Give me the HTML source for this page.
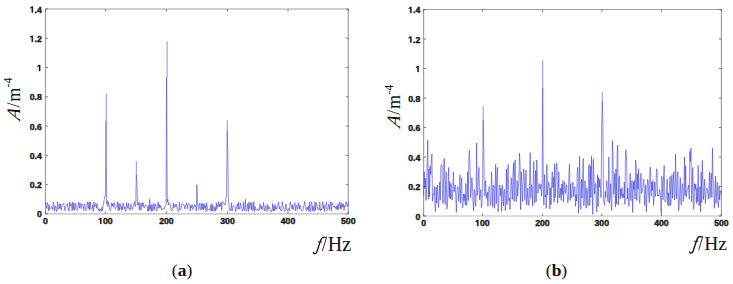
<!DOCTYPE html>
<html><head><meta charset="utf-8"><style>
html,body{margin:0;padding:0;background:#fff;width:733px;height:284px;overflow:hidden}
svg{display:block}
.tk{font-family:"Liberation Sans",sans-serif;font-weight:bold;font-size:8.7px;fill:#111;stroke:#111;stroke-width:0.35px;text-rendering:geometricPrecision}
.tk1{fill:#111;stroke:#111;stroke-width:0.35px}
.lab{font-family:"Liberation Serif",serif;font-size:18px;fill:#111}
.cap{font-family:"Liberation Serif",serif;font-size:17.5px;fill:#111}
</style></head><body>
<svg width="733" height="284" viewBox="0 0 733 284">
<rect width="733" height="284" fill="#fff"/>
<path d="M45.5,213.9 V9.0 H348.3 V213.9" fill="none" stroke="#a0a0a0" stroke-width="1.2"/>
<line x1="44.9" y1="213.9" x2="348.90000000000003" y2="213.9" stroke="#bcbcbc" stroke-width="1.2"/>
<line x1="45.50" y1="213.9" x2="45.50" y2="211.4" stroke="#606060" stroke-width="0.8"/>
<line x1="45.50" y1="9.0" x2="45.50" y2="11.5" stroke="#606060" stroke-width="0.8"/>
<text class="tk" x="43.08" y="223.90">0</text>
<line x1="105.40" y1="213.9" x2="105.40" y2="211.4" stroke="#606060" stroke-width="0.8"/>
<line x1="105.40" y1="9.0" x2="105.40" y2="11.5" stroke="#606060" stroke-width="0.8"/>
<path class="tk1" d="M100.17,223.90 L100.17,218.93 L98.74,219.83 L98.74,218.89 L100.24,217.91 L101.37,217.91 L101.37,223.90Z"/><text class="tk" x="102.98" y="223.90">00</text>
<line x1="166.40" y1="213.9" x2="166.40" y2="211.4" stroke="#606060" stroke-width="0.8"/>
<line x1="166.40" y1="9.0" x2="166.40" y2="11.5" stroke="#606060" stroke-width="0.8"/>
<text class="tk" x="159.14" y="223.90">200</text>
<line x1="227.50" y1="213.9" x2="227.50" y2="211.4" stroke="#606060" stroke-width="0.8"/>
<line x1="227.50" y1="9.0" x2="227.50" y2="11.5" stroke="#606060" stroke-width="0.8"/>
<text class="tk" x="220.24" y="223.90">300</text>
<line x1="288.00" y1="213.9" x2="288.00" y2="211.4" stroke="#606060" stroke-width="0.8"/>
<line x1="288.00" y1="9.0" x2="288.00" y2="11.5" stroke="#606060" stroke-width="0.8"/>
<text class="tk" x="280.74" y="223.90">400</text>
<line x1="348.30" y1="213.9" x2="348.30" y2="211.4" stroke="#606060" stroke-width="0.8"/>
<line x1="348.30" y1="9.0" x2="348.30" y2="11.5" stroke="#606060" stroke-width="0.8"/>
<text class="tk" x="341.04" y="223.90">500</text>
<line x1="45.5" y1="213.90" x2="48.0" y2="213.90" stroke="#606060" stroke-width="0.8"/>
<line x1="348.3" y1="213.90" x2="345.8" y2="213.90" stroke="#606060" stroke-width="0.8"/>
<text class="tk" x="36.96" y="217.40">0</text>
<line x1="45.5" y1="184.63" x2="48.0" y2="184.63" stroke="#606060" stroke-width="0.8"/>
<line x1="348.3" y1="184.63" x2="345.8" y2="184.63" stroke="#606060" stroke-width="0.8"/>
<text class="tk" x="29.71" y="188.13">0.2</text>
<line x1="45.5" y1="155.36" x2="48.0" y2="155.36" stroke="#606060" stroke-width="0.8"/>
<line x1="348.3" y1="155.36" x2="345.8" y2="155.36" stroke="#606060" stroke-width="0.8"/>
<text class="tk" x="29.71" y="158.86">0.4</text>
<line x1="45.5" y1="126.09" x2="48.0" y2="126.09" stroke="#606060" stroke-width="0.8"/>
<line x1="348.3" y1="126.09" x2="345.8" y2="126.09" stroke="#606060" stroke-width="0.8"/>
<text class="tk" x="29.71" y="129.59">0.6</text>
<line x1="45.5" y1="96.81" x2="48.0" y2="96.81" stroke="#606060" stroke-width="0.8"/>
<line x1="348.3" y1="96.81" x2="345.8" y2="96.81" stroke="#606060" stroke-width="0.8"/>
<text class="tk" x="29.71" y="100.31">0.8</text>
<line x1="45.5" y1="67.54" x2="48.0" y2="67.54" stroke="#606060" stroke-width="0.8"/>
<line x1="348.3" y1="67.54" x2="345.8" y2="67.54" stroke="#606060" stroke-width="0.8"/>
<path class="tk1" d="M38.99,71.04 L38.99,66.07 L37.56,66.97 L37.56,66.03 L39.06,65.06 L40.19,65.06 L40.19,71.04Z"/>
<line x1="45.5" y1="38.27" x2="48.0" y2="38.27" stroke="#606060" stroke-width="0.8"/>
<line x1="348.3" y1="38.27" x2="345.8" y2="38.27" stroke="#606060" stroke-width="0.8"/>
<path class="tk1" d="M31.74,41.77 L31.74,36.80 L30.30,37.70 L30.30,36.76 L31.80,35.79 L32.93,35.79 L32.93,41.77Z"/><text class="tk" x="34.54" y="41.77">.2</text>
<line x1="45.5" y1="9.00" x2="48.0" y2="9.00" stroke="#606060" stroke-width="0.8"/>
<line x1="348.3" y1="9.00" x2="345.8" y2="9.00" stroke="#606060" stroke-width="0.8"/>
<path class="tk1" d="M31.74,12.50 L31.74,7.53 L30.30,8.43 L30.30,7.49 L31.80,6.51 L32.93,6.51 L32.93,12.50Z"/><text class="tk" x="34.54" y="12.50">.4</text>
<path d="M423.6,216.0 V9.5 H721.4 V216.0" fill="none" stroke="#a0a0a0" stroke-width="1.2"/>
<line x1="423.0" y1="216.0" x2="722.0" y2="216.0" stroke="#bcbcbc" stroke-width="1.2"/>
<line x1="423.60" y1="216.0" x2="423.60" y2="213.5" stroke="#606060" stroke-width="0.8"/>
<line x1="423.60" y1="9.5" x2="423.60" y2="12.0" stroke="#606060" stroke-width="0.8"/>
<text class="tk" x="421.18" y="226.10">0</text>
<line x1="482.40" y1="216.0" x2="482.40" y2="213.5" stroke="#606060" stroke-width="0.8"/>
<line x1="482.40" y1="9.5" x2="482.40" y2="12.0" stroke="#606060" stroke-width="0.8"/>
<path class="tk1" d="M477.17,226.10 L477.17,221.13 L475.74,222.03 L475.74,221.09 L477.24,220.11 L478.37,220.11 L478.37,226.10Z"/><text class="tk" x="479.98" y="226.10">00</text>
<line x1="542.40" y1="216.0" x2="542.40" y2="213.5" stroke="#606060" stroke-width="0.8"/>
<line x1="542.40" y1="9.5" x2="542.40" y2="12.0" stroke="#606060" stroke-width="0.8"/>
<text class="tk" x="535.14" y="226.10">200</text>
<line x1="601.80" y1="216.0" x2="601.80" y2="213.5" stroke="#606060" stroke-width="0.8"/>
<line x1="601.80" y1="9.5" x2="601.80" y2="12.0" stroke="#606060" stroke-width="0.8"/>
<text class="tk" x="594.54" y="226.10">300</text>
<line x1="661.40" y1="216.0" x2="661.40" y2="213.5" stroke="#606060" stroke-width="0.8"/>
<line x1="661.40" y1="9.5" x2="661.40" y2="12.0" stroke="#606060" stroke-width="0.8"/>
<text class="tk" x="654.14" y="226.10">400</text>
<line x1="721.40" y1="216.0" x2="721.40" y2="213.5" stroke="#606060" stroke-width="0.8"/>
<line x1="721.40" y1="9.5" x2="721.40" y2="12.0" stroke="#606060" stroke-width="0.8"/>
<text class="tk" x="714.14" y="226.10">500</text>
<line x1="423.6" y1="216.00" x2="426.1" y2="216.00" stroke="#606060" stroke-width="0.8"/>
<line x1="721.4" y1="216.00" x2="718.9" y2="216.00" stroke="#606060" stroke-width="0.8"/>
<text class="tk" x="415.46" y="219.50">0</text>
<line x1="423.6" y1="186.50" x2="426.1" y2="186.50" stroke="#606060" stroke-width="0.8"/>
<line x1="721.4" y1="186.50" x2="718.9" y2="186.50" stroke="#606060" stroke-width="0.8"/>
<text class="tk" x="408.21" y="190.00">0.2</text>
<line x1="423.6" y1="157.00" x2="426.1" y2="157.00" stroke="#606060" stroke-width="0.8"/>
<line x1="721.4" y1="157.00" x2="718.9" y2="157.00" stroke="#606060" stroke-width="0.8"/>
<text class="tk" x="408.21" y="160.50">0.4</text>
<line x1="423.6" y1="127.50" x2="426.1" y2="127.50" stroke="#606060" stroke-width="0.8"/>
<line x1="721.4" y1="127.50" x2="718.9" y2="127.50" stroke="#606060" stroke-width="0.8"/>
<text class="tk" x="408.21" y="131.00">0.6</text>
<line x1="423.6" y1="98.00" x2="426.1" y2="98.00" stroke="#606060" stroke-width="0.8"/>
<line x1="721.4" y1="98.00" x2="718.9" y2="98.00" stroke="#606060" stroke-width="0.8"/>
<text class="tk" x="408.21" y="101.50">0.8</text>
<line x1="423.6" y1="68.50" x2="426.1" y2="68.50" stroke="#606060" stroke-width="0.8"/>
<line x1="721.4" y1="68.50" x2="718.9" y2="68.50" stroke="#606060" stroke-width="0.8"/>
<path class="tk1" d="M417.49,72.00 L417.49,67.03 L416.06,67.93 L416.06,66.99 L417.56,66.01 L418.69,66.01 L418.69,72.00Z"/>
<line x1="423.6" y1="39.00" x2="426.1" y2="39.00" stroke="#606060" stroke-width="0.8"/>
<line x1="721.4" y1="39.00" x2="718.9" y2="39.00" stroke="#606060" stroke-width="0.8"/>
<path class="tk1" d="M410.24,42.50 L410.24,37.53 L408.80,38.43 L408.80,37.49 L410.30,36.51 L411.43,36.51 L411.43,42.50Z"/><text class="tk" x="413.04" y="42.50">.2</text>
<line x1="423.6" y1="9.50" x2="426.1" y2="9.50" stroke="#606060" stroke-width="0.8"/>
<line x1="721.4" y1="9.50" x2="718.9" y2="9.50" stroke="#606060" stroke-width="0.8"/>
<path class="tk1" d="M410.24,13.00 L410.24,8.03 L408.80,8.93 L408.80,7.99 L410.30,7.01 L411.43,7.01 L411.43,13.00Z"/><text class="tk" x="413.04" y="13.00">.4</text>
<polyline points="45.50,202.06 46.11,206.00 46.71,208.51 47.32,202.51 47.92,204.57 48.53,210.69 49.13,204.71 49.74,209.68 50.34,208.80 50.95,208.09 51.56,206.38 52.16,207.06 52.77,209.82 53.37,201.94 53.98,204.30 54.58,210.80 55.19,206.19 55.80,206.14 56.40,211.69 57.01,211.14 57.61,202.16 58.22,208.60 58.82,208.99 59.43,204.15 60.03,208.52 60.64,203.81 61.25,210.29 61.85,206.43 62.46,205.09 63.06,203.86 63.67,203.58 64.27,206.43 64.88,210.83 65.48,206.75 66.09,206.06 66.70,205.56 67.30,203.44 67.91,208.61 68.51,208.40 69.12,211.17 69.72,201.88 70.33,206.26 70.94,203.56 71.54,205.11 72.15,210.83 72.75,202.18 73.36,209.70 73.96,202.92 74.57,210.34 75.17,206.59 75.78,203.46 76.39,209.79 76.99,210.45 77.60,209.20 78.20,204.27 78.81,201.99 79.41,208.29 80.02,202.91 80.62,206.51 81.23,208.72 81.84,203.63 82.44,204.31 83.05,205.99 83.65,210.38 84.26,205.29 84.86,203.96 85.47,210.71 86.08,210.08 86.68,209.82 87.29,202.07 87.89,203.91 88.50,208.49 89.10,201.91 89.71,210.13 90.31,201.75 90.92,208.76 91.53,209.08 92.13,208.15 92.74,204.98 93.34,211.52 93.95,201.95 94.55,206.66 95.16,204.51 95.76,203.45 96.37,208.19 96.98,203.64 97.58,206.24 98.19,210.20 98.79,208.72 99.40,211.29 100.00,208.77 100.61,209.79 101.22,211.53 101.82,207.20 102.43,210.80 103.03,205.12 103.64,202.19 104.24,199.26 104.85,196.34 105.45,196.34 106.06,120.96 106.67,203.66 107.27,200.73 107.88,206.58 108.48,202.19 109.09,205.45 109.69,209.41 110.30,210.56 110.90,208.79 111.51,202.82 112.12,206.16 112.72,203.57 113.33,206.75 113.93,203.61 114.54,202.61 115.14,209.06 115.75,208.44 116.36,207.16 116.96,206.06 117.57,201.78 118.17,210.78 118.78,203.47 119.38,210.31 119.99,203.44 120.59,205.11 121.20,209.73 121.81,205.87 122.41,210.03 123.02,202.91 123.62,205.56 124.23,208.91 124.83,206.53 125.44,211.41 126.04,210.72 126.65,202.44 127.26,206.22 127.86,208.47 128.47,203.15 129.07,209.04 129.68,208.68 130.28,210.35 130.89,204.28 131.50,206.20 132.10,209.74 132.71,208.42 133.31,206.24 133.92,203.54 134.52,201.48 135.13,206.58 135.73,205.12 136.34,174.38 136.95,183.17 137.55,205.12 138.16,205.12 138.76,202.37 139.37,210.29 139.97,203.09 140.58,208.67 141.18,210.29 141.79,202.86 142.40,206.45 143.00,202.48 143.61,206.59 144.21,208.09 144.82,206.28 145.42,204.70 146.03,206.20 146.64,206.04 147.24,206.92 147.85,211.59 148.45,205.49 149.06,210.97 149.66,199.26 150.27,209.51 150.87,205.01 151.48,211.25 152.09,204.37 152.69,211.06 153.30,209.93 153.90,203.39 154.51,209.78 155.11,204.29 155.72,204.17 156.32,208.81 156.93,211.05 157.54,206.65 158.14,201.80 158.75,208.16 159.35,204.35 159.96,208.36 160.56,205.47 161.17,206.93 161.78,210.00 162.38,208.92 162.99,208.92 163.59,208.60 164.20,209.01 164.80,206.33 165.41,206.34 166.01,205.12 166.62,77.79 167.23,202.19 167.83,199.26 168.44,205.12 169.04,202.62 169.65,203.55 170.25,204.78 170.86,209.17 171.46,210.48 172.07,210.94 172.68,208.89 173.28,203.05 173.89,208.20 174.49,204.92 175.10,204.25 175.70,206.82 176.31,204.05 176.92,207.08 177.52,209.40 178.13,211.43 178.73,210.89 179.34,202.17 179.94,210.04 180.55,209.12 181.15,208.75 181.76,203.68 182.37,203.34 182.97,204.94 183.58,205.00 184.18,205.09 184.79,208.94 185.39,205.33 186.00,205.08 186.60,202.72 187.21,209.10 187.82,205.03 188.42,203.92 189.03,203.42 189.63,203.90 190.24,211.03 190.84,205.60 191.45,208.05 192.06,204.69 192.66,209.58 193.27,208.45 193.87,205.75 194.48,204.42 195.08,206.88 195.69,205.48 196.29,210.98 196.90,184.63 197.51,205.12 198.11,204.63 198.72,209.71 199.32,205.46 199.93,202.80 200.53,209.02 201.14,210.08 201.74,203.32 202.35,209.35 202.96,203.58 203.56,209.96 204.17,203.62 204.77,208.18 205.38,205.52 205.98,211.46 206.59,202.80 207.20,206.17 207.80,210.53 208.41,209.92 209.01,209.30 209.62,208.90 210.22,210.45 210.83,204.75 211.43,211.19 212.04,203.57 212.65,211.20 213.25,205.66 213.86,207.16 214.46,211.10 215.07,207.23 215.67,211.11 216.28,202.67 216.88,209.45 217.49,204.87 218.10,206.37 218.70,202.08 219.31,207.02 219.91,203.80 220.52,206.06 221.12,202.13 221.73,210.55 222.34,202.45 222.94,201.52 223.55,203.42 224.15,203.98 224.76,203.76 225.36,205.12 225.97,197.07 226.57,196.34 227.18,130.48 227.79,150.97 228.39,200.73 229.00,205.12 229.60,210.69 230.21,209.21 230.81,210.23 231.42,202.71 232.02,211.18 232.63,209.19 233.24,205.75 233.84,205.74 234.45,206.56 235.05,206.63 235.66,211.58 236.26,208.61 236.87,205.71 237.48,203.75 238.08,209.40 238.69,202.27 239.29,208.93 239.90,209.00 240.50,203.07 241.11,205.05 241.71,208.18 242.32,210.96 242.93,210.68 243.53,202.28 244.14,210.65 244.74,209.51 245.35,199.26 245.95,210.97 246.56,210.92 247.16,208.33 247.77,203.96 248.38,211.43 248.98,202.13 249.59,208.76 250.19,203.83 250.80,202.24 251.40,209.80 252.01,202.86 252.62,210.74 253.22,209.99 253.83,201.64 254.43,211.55 255.04,206.42 255.64,209.63 256.25,209.58 256.85,210.52 257.46,208.95 258.07,208.77 258.67,210.98 259.28,209.91 259.88,203.69 260.49,206.52 261.09,209.02 261.70,205.73 262.30,209.72 262.91,209.66 263.52,202.53 264.12,206.72 264.73,211.07 265.33,208.37 265.94,205.37 266.54,209.99 267.15,211.45 267.76,204.46 268.36,208.98 268.97,206.49 269.57,208.11 270.18,211.28 270.78,210.57 271.39,211.66 271.99,211.11 272.60,203.44 273.21,211.10 273.81,205.65 274.42,210.91 275.02,204.59 275.63,209.56 276.23,207.12 276.84,208.94 277.44,204.95 278.05,204.93 278.66,201.94 279.26,209.01 279.87,206.50 280.47,209.50 281.08,211.17 281.68,209.96 282.29,201.62 282.90,206.56 283.50,206.71 284.11,210.49 284.71,211.58 285.32,209.47 285.92,203.99 286.53,209.64 287.13,209.22 287.74,211.13 288.35,210.20 288.95,208.44 289.56,210.73 290.16,201.79 290.77,205.13 291.37,204.94 291.98,208.94 292.58,204.69 293.19,210.12 293.80,206.96 294.40,204.01 295.01,202.62 295.61,210.85 296.22,205.53 296.82,205.12 297.43,209.38 298.04,206.69 298.64,202.89 299.25,209.38 299.85,204.95 300.46,205.83 301.06,209.47 301.67,211.14 302.27,211.41 302.88,210.96 303.49,206.14 304.09,205.64 304.70,201.51 305.30,207.07 305.91,209.50 306.51,210.48 307.12,207.29 307.72,209.69 308.33,206.13 308.94,211.45 309.54,201.89 310.15,210.95 310.75,211.67 311.36,201.69 311.96,203.59 312.57,210.54 313.18,206.03 313.78,211.24 314.39,211.34 314.99,202.03 315.60,210.49 316.20,202.65 316.81,204.11 317.41,206.73 318.02,209.57 318.63,208.71 319.23,209.81 319.84,202.10 320.44,211.23 321.05,208.73 321.65,210.05 322.26,207.11 322.86,201.59 323.47,208.54 324.08,205.49 324.68,211.67 325.29,206.15 325.89,204.37 326.50,202.06 327.10,210.68 327.71,209.86 328.32,207.05 328.92,203.92 329.53,209.83 330.13,204.77 330.74,201.76 331.34,211.15 331.95,202.43 332.55,203.04 333.16,206.08 333.77,207.23 334.37,206.18 334.98,208.14 335.58,206.98 336.19,209.29 336.79,205.83 337.40,209.73 338.00,204.37 338.61,209.30 339.22,202.01 339.82,204.43 340.43,208.56 341.03,202.61 341.64,209.07 342.24,203.79 342.85,207.00 343.46,204.14 344.06,210.42 344.67,205.80 345.27,206.74 345.88,201.68 346.48,202.11 347.09,206.27 347.69,206.13 348.30,202.17" fill="none" stroke="#3232d8" stroke-width="0.55" stroke-linejoin="round"/>
<polyline points="423.60,196.23 424.20,171.75 424.79,188.58 425.39,178.10 425.98,200.51 426.58,189.89 427.17,161.83 427.77,140.04 428.36,198.89 428.96,168.80 429.56,196.82 430.15,166.08 430.75,174.74 431.34,159.47 431.94,154.05 432.53,201.25 433.13,194.34 433.73,194.39 434.32,186.50 434.92,204.44 435.51,211.57 436.11,187.17 436.70,203.18 437.30,185.03 437.89,191.90 438.49,207.59 439.09,197.15 439.68,182.07 440.28,200.23 440.87,166.69 441.47,164.38 442.06,166.41 442.66,203.46 443.25,202.11 443.85,158.72 444.45,158.47 445.04,204.49 445.64,184.68 446.23,171.75 446.83,209.07 447.42,205.98 448.02,188.32 448.62,167.32 449.21,197.47 449.81,181.63 450.40,199.04 451.00,183.55 451.59,197.16 452.19,200.25 452.78,189.77 453.38,171.75 453.98,191.96 454.57,189.85 455.17,185.03 455.76,195.94 456.36,212.46 456.95,191.11 457.55,186.50 458.14,187.44 458.74,201.25 459.34,192.52 459.93,174.70 460.53,203.29 461.12,188.68 461.72,177.65 462.31,207.59 462.91,207.51 463.51,193.88 464.10,200.73 464.70,194.30 465.29,204.79 465.89,183.55 466.48,205.48 467.08,201.47 467.67,171.75 468.27,200.51 468.87,156.89 469.46,150.36 470.06,166.82 470.65,197.71 471.25,191.81 471.84,177.65 472.44,185.08 473.03,201.45 473.63,211.13 474.23,189.45 474.82,191.19 475.42,206.02 476.01,200.80 476.61,142.99 477.20,195.64 477.80,192.28 478.40,174.40 478.99,167.32 479.59,200.06 480.18,195.29 480.78,189.45 481.37,207.59 481.97,204.48 482.56,186.50 483.16,120.12 483.76,148.74 484.35,186.50 484.95,196.27 485.54,180.60 486.14,193.09 486.73,198.64 487.33,192.17 487.92,206.26 488.52,191.57 489.12,186.50 489.71,189.22 490.31,205.48 490.90,203.49 491.50,171.75 492.09,186.11 492.69,206.97 493.29,185.38 493.88,185.03 494.48,208.33 495.07,188.12 495.67,164.38 496.26,203.65 496.86,175.70 497.45,167.32 498.05,211.87 498.65,209.26 499.24,188.42 499.84,185.03 500.43,195.94 501.03,187.94 501.62,211.13 502.22,185.03 502.81,189.48 503.41,205.96 504.01,191.61 504.60,189.45 505.20,210.40 505.79,208.01 506.39,168.80 506.98,204.65 507.58,175.83 508.18,164.38 508.77,200.74 509.37,197.62 509.96,209.66 510.56,199.26 511.15,177.65 511.75,186.54 512.34,199.41 512.94,176.49 513.54,162.90 514.13,201.25 514.73,162.78 515.32,159.95 515.92,201.54 516.51,201.28 517.11,180.60 517.70,196.23 518.30,187.90 518.90,180.64 519.49,153.16 520.09,163.45 520.68,209.66 521.28,171.75 521.87,185.12 522.47,201.45 523.07,184.73 523.66,168.80 524.26,176.41 524.85,200.51 525.45,180.71 526.04,170.28 526.64,205.03 527.23,200.08 527.83,187.97 528.43,204.00 529.02,205.53 529.62,181.05 530.21,152.57 530.81,198.33 531.40,185.03 532.00,187.57 532.59,206.26 533.19,179.44 533.79,161.43 534.38,203.31 534.98,201.55 535.57,170.28 536.17,201.85 536.76,159.95 537.36,178.70 537.96,193.43 538.55,189.63 539.15,183.55 539.74,188.85 540.34,188.79 540.93,184.17 541.53,196.23 542.12,186.50 542.72,87.67 543.32,193.88 543.91,205.10 544.51,174.70 545.10,196.96 545.70,194.61 546.29,208.33 546.89,164.38 547.48,195.14 548.08,187.13 548.68,182.07 549.27,185.14 549.87,209.07 550.46,187.97 551.06,204.61 551.65,181.41 552.25,171.75 552.85,187.75 553.44,177.36 554.04,201.99 554.63,163.93 555.23,197.61 555.82,180.76 556.42,162.90 557.01,164.36 557.61,203.04 558.21,194.20 558.80,171.75 559.40,197.92 559.99,196.65 560.59,187.97 561.18,200.51 561.78,183.98 562.37,194.59 562.97,180.60 563.57,201.92 564.16,185.10 564.76,182.07 565.35,193.43 565.95,188.31 566.54,185.03 567.14,193.72 567.74,202.72 568.33,199.35 568.93,172.22 569.52,163.93 570.12,200.44 570.71,183.55 571.31,197.71 571.90,196.68 572.50,182.62 573.10,182.07 573.69,196.80 574.29,187.77 574.88,186.50 575.48,206.26 576.07,194.47 576.67,201.29 577.26,171.78 577.86,167.32 578.46,213.20 579.05,185.88 579.65,156.26 580.24,202.99 580.84,209.66 581.43,179.12 582.03,198.22 582.63,178.41 583.22,158.47 583.82,205.90 584.41,199.65 585.01,180.60 585.60,197.02 586.20,208.33 586.79,187.97 587.39,194.37 587.99,205.74 588.58,167.88 589.18,164.38 589.77,205.53 590.37,166.07 590.96,197.60 591.56,156.26 592.15,186.64 592.75,214.38 593.35,159.21 593.94,176.89 594.54,194.00 595.13,183.66 595.73,183.55 596.32,209.41 596.92,211.87 597.52,174.70 598.11,206.76 598.71,177.65 599.30,187.46 599.90,179.37 600.49,189.71 601.09,197.71 601.68,126.02 602.28,100.95 602.88,118.65 603.47,198.30 604.07,203.64 604.66,205.53 605.26,191.67 605.85,197.55 606.45,180.60 607.04,182.16 607.64,200.17 608.24,201.99 608.83,157.00 609.43,203.16 610.02,199.10 610.62,183.55 611.21,208.14 611.81,210.40 612.41,140.77 613.00,156.23 613.60,194.42 614.19,188.21 614.79,173.22 615.38,206.95 615.98,168.80 616.57,204.05 617.17,151.08 617.77,145.20 618.36,205.01 618.96,179.24 619.55,176.18 620.15,199.04 620.74,188.68 621.34,196.20 621.93,187.97 622.53,197.70 623.13,193.94 623.72,197.71 624.32,182.07 624.91,204.32 625.51,151.67 626.10,149.62 626.70,161.30 627.30,199.04 627.89,187.97 628.49,205.17 629.08,206.26 629.68,183.05 630.27,173.22 630.87,200.88 631.46,182.28 632.06,180.60 632.66,212.46 633.25,181.63 633.85,189.65 634.44,180.60 635.04,199.29 635.63,160.25 636.23,165.76 636.82,200.51 637.42,173.82 638.02,189.15 638.61,168.80 639.21,199.54 639.80,202.92 640.40,181.32 640.99,173.22 641.59,193.43 642.19,191.47 642.78,187.94 643.38,179.12 643.97,179.24 644.57,205.71 645.16,194.13 645.76,185.03 646.35,211.87 646.95,194.79 647.55,179.12 648.14,180.36 648.74,196.02 649.33,202.72 649.93,167.32 650.52,167.34 651.12,196.38 651.71,181.99 652.31,190.64 652.91,180.60 653.50,205.53 654.10,197.85 654.69,182.07 655.29,196.47 655.88,192.97 656.48,168.80 657.08,171.11 657.67,196.23 658.27,194.97 658.86,196.17 659.46,189.45 660.05,192.14 660.65,199.29 661.24,213.94 661.84,176.18 662.44,183.89 663.03,199.69 663.63,174.56 664.22,165.41 664.82,200.43 665.41,201.99 666.01,199.89 666.60,190.56 667.20,179.12 667.80,204.90 668.39,192.58 668.99,206.26 669.58,184.11 670.18,176.18 670.77,205.32 671.37,185.19 671.97,174.70 672.56,198.30 673.16,181.93 673.75,171.75 674.35,199.96 674.94,197.83 675.54,154.05 676.13,188.20 676.73,198.79 677.33,174.52 677.92,171.75 678.52,210.84 679.11,206.75 679.71,193.14 680.30,177.65 680.90,203.85 681.49,205.23 682.09,183.55 682.69,184.64 683.28,201.46 683.88,193.84 684.47,157.00 685.07,195.68 685.66,165.85 686.26,196.82 686.86,191.99 687.45,190.37 688.05,188.34 688.64,185.03 689.24,199.04 689.83,151.33 690.43,161.57 691.02,148.15 691.62,201.97 692.22,189.94 692.81,167.32 693.41,209.36 694.00,207.42 694.60,183.55 695.19,189.38 695.79,184.10 696.38,203.46 696.98,187.97 697.58,201.88 698.17,165.41 698.77,205.80 699.36,205.47 699.96,186.50 700.55,211.87 701.15,171.88 701.75,202.78 702.34,160.25 702.94,181.54 703.53,199.67 704.13,188.93 704.72,179.12 705.32,203.46 705.91,193.95 706.51,188.14 707.11,187.97 707.70,191.50 708.30,199.24 708.89,188.45 709.49,171.75 710.08,197.71 710.68,180.20 711.27,173.22 711.87,197.44 712.47,148.15 713.06,180.24 713.66,183.47 714.25,208.33 714.85,196.57 715.44,176.18 716.04,203.74 716.64,193.05 717.23,182.07 717.83,200.42 718.42,207.59 719.02,186.50 719.61,199.83 720.21,190.93 720.80,190.63 721.40,195.00" fill="none" stroke="#3232d8" stroke-width="0.55" stroke-linejoin="round"/>
<line x1="106.24" y1="120.96" x2="106.24" y2="93.89" stroke="#6a6ae0" stroke-width="0.75"/><line x1="136.34" y1="174.38" x2="136.34" y2="161.50" stroke="#6a6ae0" stroke-width="0.75"/><line x1="167.10" y1="77.79" x2="167.10" y2="41.20" stroke="#6a6ae0" stroke-width="0.75"/><line x1="227.30" y1="130.48" x2="227.30" y2="120.23" stroke="#6a6ae0" stroke-width="0.75"/>
<line x1="483.16" y1="120.12" x2="483.16" y2="106.41" stroke="#6a6ae0" stroke-width="0.75"/><line x1="542.72" y1="87.67" x2="542.72" y2="60.24" stroke="#6a6ae0" stroke-width="0.75"/><line x1="602.28" y1="100.95" x2="602.28" y2="92.10" stroke="#6a6ae0" stroke-width="0.75"/>
<g transform="translate(0,0)" fill="none" stroke="#111" stroke-linecap="round"><path d="M313.4,252.4 C313.8,254.2 315.7,254.3 316.8,252.0 C318.2,248.6 319.9,241.0 321.6,238.6 C322.5,237.3 323.9,236.7 325.3,237.5" stroke-width="1.3"/><path d="M318.1,241.9 H321.6" stroke-width="0.9"/><path d="M322.5,250.6 L326.6,237.0" stroke-width="0.85"/></g><text class="lab" style="font-size:20px" x="327.8" y="250.5">H</text><text class="lab" style="font-size:20px" x="342.2" y="250.5">z</text>
<g transform="translate(376.2,-0.6)" fill="none" stroke="#111" stroke-linecap="round"><path d="M313.4,252.4 C313.8,254.2 315.7,254.3 316.8,252.0 C318.2,248.6 319.9,241.0 321.6,238.6 C322.5,237.3 323.9,236.7 325.3,237.5" stroke-width="1.3"/><path d="M318.1,241.9 H321.6" stroke-width="0.9"/><path d="M322.5,250.6 L326.6,237.0" stroke-width="0.85"/></g><text class="lab" style="font-size:19.5px" x="704.3" y="249.8">H</text><text class="lab" style="font-size:19.5px" x="718.2" y="249.8">z</text>
<g transform="translate(19.8,120.5) rotate(-90)"><text class="lab" style="font-size:19px;font-style:italic" transform="translate(-0.6,0) skewX(-16)">A</text><text class="lab" x="13.0">/</text><text class="lab" x="18.7">m</text><text class="lab" style="font-size:12px" x="32.9" y="-7.5">-4</text></g>
<g transform="translate(400.3,127.7) rotate(-90)"><text class="lab" style="font-size:19px;font-style:italic" transform="translate(-0.6,0) skewX(-16)">A</text><text class="lab" x="13.0">/</text><text class="lab" x="18.7">m</text><text class="lab" style="font-size:12px" x="32.9" y="-7.5">-4</text></g>
<text class="cap" x="171.8" y="276.3">(<tspan font-weight="bold">a</tspan>)</text>
<text class="cap" x="545.8" y="276.3">(<tspan font-weight="bold">b</tspan>)</text>
</svg>
</body></html>
